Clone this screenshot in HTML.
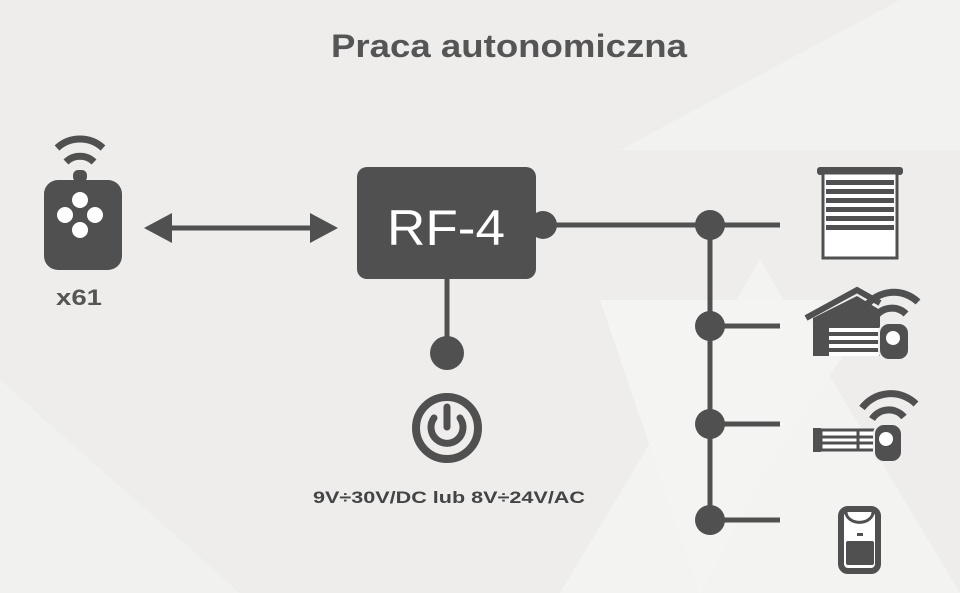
<!DOCTYPE html>
<html><head><meta charset="utf-8"><style>
html,body{margin:0;padding:0;background:#efeeed;}
svg{display:block}
</style></head><body>
<svg width="960" height="593" viewBox="0 0 960 593" xmlns="http://www.w3.org/2000/svg">
<rect width="960" height="593" fill="#eeedec"/>
<polygon points="560,593 760,260 960,593" fill="#f3f3f2"/>
<polygon points="620,150 960,150 960,0 900,0" fill="#f2f2f1"/>
<polygon points="600,300 880,300 760,480 700,593" fill="#f4f4f3"/>
<polygon points="0,380 240,593 0,593" fill="#f1f1f0"/>
<text x="509" y="57" text-anchor="middle" font-family="Liberation Sans, sans-serif" font-size="32" font-weight="bold" fill="#555" textLength="356" lengthAdjust="spacingAndGlyphs">Praca autonomiczna</text>
<g fill="#505050" stroke="#505050">
<!-- remote -->
<path d="M57 148 A34 34 0 0 1 103 148" fill="none" stroke-width="7"/>
<path d="M66 162 A20 20 0 0 1 94 162" fill="none" stroke-width="7"/>
<rect x="73" y="170" width="14" height="12" rx="5" stroke="none"/>
<rect x="44" y="180" width="78" height="90" rx="14" stroke="none"/>
<g fill="#fff" stroke="none"><circle cx="80" cy="200" r="8"/><circle cx="65" cy="215" r="8"/><circle cx="95" cy="215" r="8"/><circle cx="80" cy="230" r="8"/></g>
<!-- arrow -->
<line x1="160" y1="228" x2="322" y2="228" stroke-width="5"/>
<polygon points="144,228 172,213 172,243" stroke="none"/>
<polygon points="338,228 310,213 310,243" stroke="none"/>
<!-- RF-4 -->
<rect x="357" y="167" width="179" height="112" rx="10" stroke="none"/>
<circle cx="543" cy="225" r="14" stroke="none"/>
<line x1="545" y1="225" x2="780" y2="225" stroke-width="5"/>
<line x1="447" y1="279" x2="447" y2="353" stroke-width="5"/>
<circle cx="447" cy="353" r="17" stroke="none"/>
<circle cx="447" cy="428" r="31" fill="none" stroke-width="8"/>
<path d="M434 418 A16 16 0 1 0 460 418" fill="none" stroke-width="7" stroke-linecap="round"/>
<line x1="447" y1="407" x2="447" y2="427" stroke-width="7" stroke-linecap="round"/>
<!-- bus -->
<line x1="710" y1="224" x2="710" y2="520" stroke-width="5"/>
<line x1="710" y1="326" x2="780" y2="326" stroke-width="5"/>
<line x1="710" y1="424" x2="780" y2="424" stroke-width="5"/>
<line x1="710" y1="520" x2="780" y2="520" stroke-width="5"/>
<circle cx="710" cy="225" r="15" stroke="none"/>
<circle cx="710" cy="326" r="15" stroke="none"/>
<circle cx="710" cy="424" r="15" stroke="none"/>
<circle cx="710" cy="520" r="15" stroke="none"/>
<!-- blinds -->
<rect x="817" y="167" width="86" height="8" rx="3" stroke="none"/>
<rect x="823" y="173" width="74" height="85" fill="#fff" stroke-width="3"/>
<g stroke="none"><rect x="826" y="180" width="68" height="5"/><rect x="826" y="189" width="68" height="5"/><rect x="826" y="198" width="68" height="5"/><rect x="826" y="207" width="68" height="5"/><rect x="826" y="216" width="68" height="5"/><rect x="826" y="225" width="68" height="5"/></g>
<!-- garage -->
<path d="M806 318 L857 290 L880 303" fill="none" stroke-width="6"/>
<polygon points="813,318 857,296 880,310 880,356 813,356" stroke="none"/>
<g fill="#fff" stroke="none"><rect x="829" y="328" width="50" height="4"/><rect x="829" y="336" width="50" height="4"/><rect x="829" y="344" width="50" height="4"/><rect x="829" y="352" width="50" height="4"/></g>
<path d="M866 306 A35 35 0 0 1 918 302" fill="none" stroke-width="7"/>
<path d="M876 316 A20 20 0 0 1 906 314" fill="none" stroke-width="7"/>
<rect x="879" y="323" width="30" height="37" rx="10" stroke="#eee" stroke-width="2"/>
<circle cx="893" cy="338" r="7" fill="#fff" stroke="none"/>
<!-- gate -->
<path d="M862 408 A36 36 0 0 1 916 404" fill="none" stroke-width="7"/>
<path d="M872 419 A20 20 0 0 1 904 417" fill="none" stroke-width="7"/>
<rect x="813" y="428" width="8" height="24" stroke="none"/>
<rect x="821" y="430" width="60" height="20" fill="#fff" stroke-width="3"/>
<line x1="821" y1="437" x2="881" y2="437" stroke-width="3"/><line x1="821" y1="443" x2="881" y2="443" stroke-width="3"/>
<line x1="858" y1="430" x2="858" y2="450" stroke-width="3"/>
<rect x="874" y="424" width="28" height="38" rx="10" stroke="#eee" stroke-width="2"/>
<circle cx="886" cy="439" r="7" fill="#fff" stroke="none"/>
<!-- sensor -->
<rect x="841" y="509" width="37" height="62" rx="7" fill="#fff" stroke-width="6"/>
<path d="M846 512 A13 10 0 0 0 873 512" fill="none" stroke-width="3"/>
<rect x="857" y="533" width="6" height="3" stroke="none"/>
<rect x="846" y="541" width="28" height="24" rx="2" stroke="none"/>
</g>
<text x="79" y="305" text-anchor="middle" font-family="Liberation Sans, sans-serif" font-size="22" font-weight="bold" fill="#555" textLength="46" lengthAdjust="spacingAndGlyphs">x61</text>
<text x="449" y="503" text-anchor="middle" font-family="Liberation Sans, DejaVu Sans, sans-serif" font-size="17" font-weight="bold" fill="#444" textLength="272" lengthAdjust="spacingAndGlyphs">9V÷30V/DC lub 8V÷24V/AC</text>
<text x="446" y="245" text-anchor="middle" font-family="Liberation Sans, sans-serif" font-size="50" fill="#fff" textLength="118" lengthAdjust="spacingAndGlyphs">RF-4</text>
</svg>
</body></html>
